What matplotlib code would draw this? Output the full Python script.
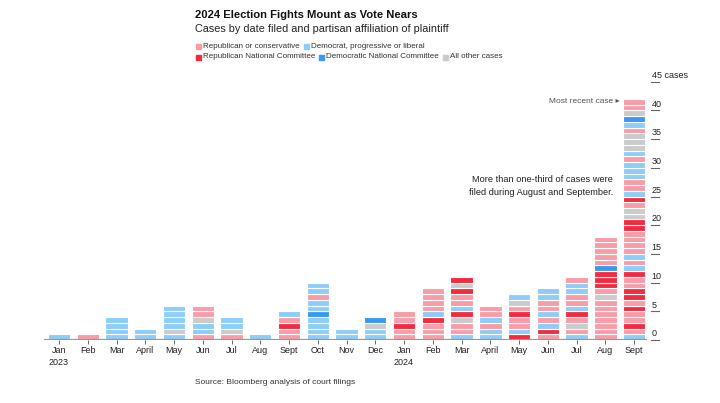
import matplotlib.pyplot as plt
from matplotlib.patches import Rectangle

plt.rcParams['font.family'] = ['Liberation Sans', 'DejaVu Sans']

# month labels along the bottom
months = ['Jan', 'Feb', 'Mar', 'April', 'May', 'Jun', 'Jul', 'Aug', 'Sept', 'Oct', 'Nov', 'Dec',
          'Jan', 'Feb', 'Mar', 'April', 'May', 'Jun', 'Jul', 'Aug', 'Sept']
years = ['2023', '', '', '', '', '', '', '', '', '', '', '',
         '2024', '', '', '', '', '', '', '', '']

# one entry per case, stacked from the bottom up
# R = Republican or conservative, D = Democrat/progressive/liberal
# RNC / DNC = national committees, O = all other cases
cases = [
    'D',
    'R',
    'D D D D',
    'D D',
    'D O D D D D',
    'R D D O R R',
    'R O D D',
    'D',
    'R R RNC R D',
    'D D D D DNC D D R D D',
    'D D',
    'D D O DNC',
    'R R RNC R R',
    'R R R RNC D R R R R',
    'D R R O RNC D R R RNC O RNC',
    'D D R D R R',
    'RNC D R R RNC R O D',
    'R RNC D R D R R D D',
    'D R O R RNC D R R D D R',
    'R R R R R R R O R RNC RNC RNC DNC R R R R R',
    'D R RNC R R RNC R RNC RNC R R RNC D R D R R R R RNC RNC O O R RNC D R R D D D R D O O O R D DNC O R R',
]
cases = [c.split() for c in cases]

legend_labels = {
    'R': 'Republican or conservative',
    'D': 'Democrat, progressive or liberal',
    'RNC': 'Republican National Committee',
    'DNC': 'Democratic National Committee',
    'O': 'All other cases',
}
legend_rows = [['R', 'D'], ['RNC', 'DNC', 'O']]
colors = {'R': '#f89ca8', 'D': '#8ccdfa', 'RNC': '#f42a3e', 'DNC': '#3a98f2', 'O': '#cbcbcb'}

yticks = [0, 5, 10, 15, 20, 25, 30, 35, 40, 45]

W, H = 720, 403
fig = plt.figure(figsize=(7.2, 4.03), dpi=100)
ax = fig.add_axes([40 / W, 63 / H, 630 / W, 264 / H])

# bars, one cell per case
for i, col in enumerate(cases):
    for j, c in enumerate(col):
        ax.bar(i, 1, bottom=j, width=0.78, color=colors[c], edgecolor='white', linewidth=0.8)

ax.set_xlim(-0.661, 21.25)
ax.set_ylim(0, 46)
for s in ax.spines.values():
    s.set_visible(False)
ax.set_yticks([])

ax.plot([-0.52, 20.45], [0, 0], color='#999999', lw=1.6, solid_capstyle='butt', zorder=3)

ax.set_xticks(range(len(months)))
ax.set_xticklabels([m + ('\n' + y if y else '') for m, y in zip(months, years)],
                   fontsize=6.5, color='#222222', linespacing=1.45, va='top')
ax.tick_params(axis='x', length=3, width=0.7, color='#666666', pad=1.5)

# right side scale
for v in yticks:
    ax.plot([20.59, 20.87], [v, v], color='#666666', lw=0.8, clip_on=False)
    ax.text(20.61, v + 0.3, '45 cases' if v == 45 else str(v), fontsize=6.5,
            color='#222222', va='bottom', ha='left')

ax.text(19.5, 41.5, 'Most recent case \u25b8', fontsize=6, color='#555555',
        ha='right', va='center', family=['Liberation Sans', 'DejaVu Sans'])
ax.text(19.27, 26.8, 'More than one-third of cases were\nfiled during August and September.',
        fontsize=6.7, color='#222222', ha='right', va='center', multialignment='right',
        linespacing=1.55)

# titles
fig.text(195 / W, 1 - 15 / H, '2024 Election Fights Mount as Vote Nears',
         fontsize=8.1, fontweight='bold', color='#111111', va='center')
fig.text(195 / W, 1 - 29 / H, 'Cases by date filed and partisan affiliation of plaintiff',
         fontsize=7.8, color='#222222', va='center')

# legend rows, items placed one after another
renderer = fig.canvas.get_renderer()
for row, py in zip(legend_rows, [46, 57]):
    px = 196
    for key in row:
        fig.patches.append(Rectangle((px / W, 1 - (py + 2.5) / H), 5 / W, 5 / H,
                                     transform=fig.transFigure, color=colors[key]))
        t = fig.text((px + 7) / W, 1 - py / H, legend_labels[key], fontsize=5.8,
                     color='#333333', va='center')
        px = t.get_window_extent(renderer).x1 + 4

fig.text(195 / W, 1 - 383 / H, 'Source: Bloomberg analysis of court filings',
         fontsize=6, color='#333333', va='center')

fig.savefig('out.png', dpi=100)
